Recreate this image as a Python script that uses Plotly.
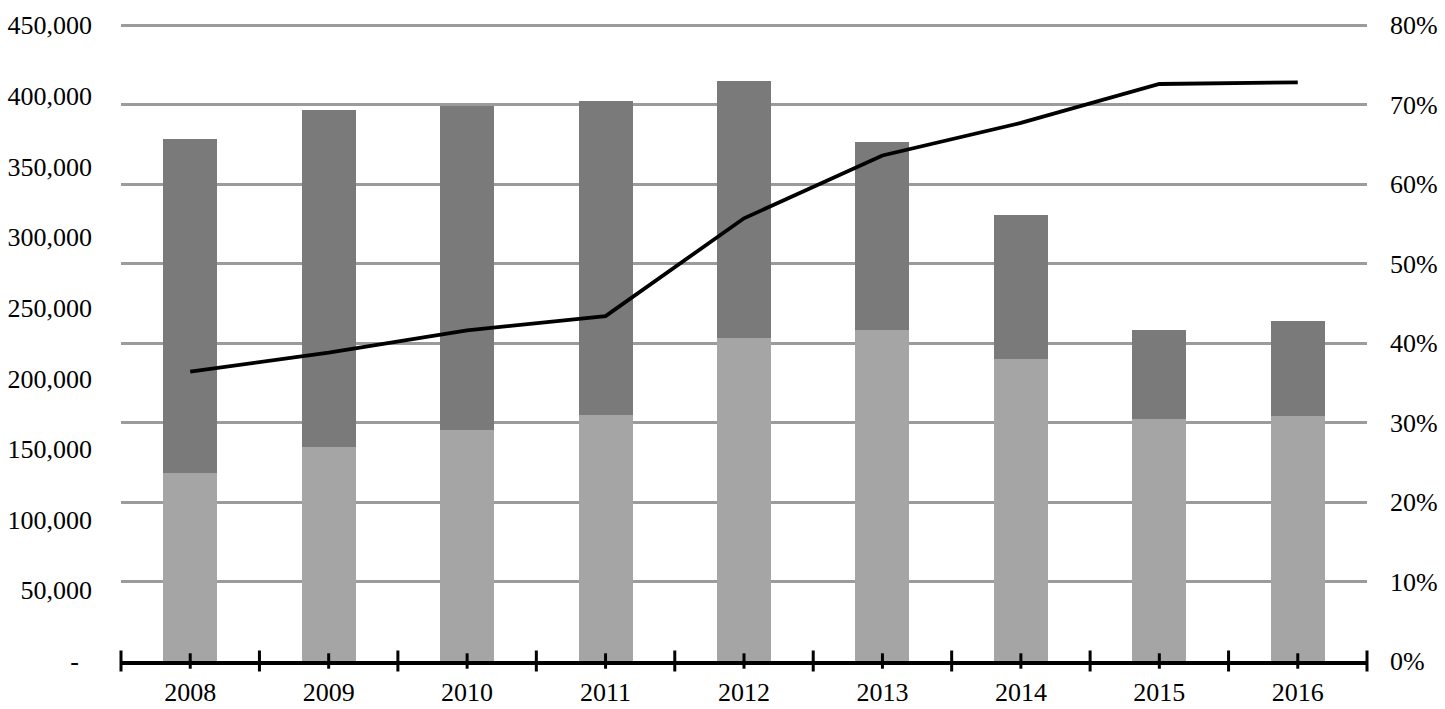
import plotly.graph_objects as go
import numpy as np

years = ["2008", "2009", "2010", "2011", "2012", "2013", "2014", "2015", "2016"]
lower_values = [133000, 151500, 163300, 174200, 228300, 234200, 213800, 171300, 173500]
upper_values = [236800, 238300, 229400, 222300, 182200, 133000, 101700, 62900, 66800]
share_values = [0.364, 0.388, 0.416, 0.434, 0.557, 0.636, 0.677, 0.726, 0.728]

left_tickvals = [0, 50000, 100000, 150000, 200000, 250000, 300000, 350000, 400000, 450000]
left_ticktext = ["-\u00a0\u00a0", "50,000", "100,000", "150,000", "200,000", "250,000",
                 "300,000", "350,000", "400,000", "450,000"]
right_tickvals = [0, 0.1, 0.2, 0.3, 0.4, 0.5, 0.6, 0.7, 0.8]

idx = np.arange(len(years))
boundaries = np.arange(len(years) + 1) - 0.5

FONT = "Liberation Serif"
PAD = 1.005  # small headroom so the top gridline is drawn

fig = go.Figure()
fig.add_trace(go.Bar(x=idx, y=lower_values, marker=dict(color="#a5a5a5", line=dict(width=0)),
                     width=0.39, yaxis="y"))
fig.add_trace(go.Bar(x=idx, y=upper_values, marker=dict(color="#7a7a7a", line=dict(width=0)),
                     width=0.39, yaxis="y"))
fig.add_trace(go.Scatter(x=idx, y=share_values, mode="lines", yaxis="y2",
                         line=dict(color="black", width=3.8)))
# axis tick marks crossing the category axis line
fig.add_trace(go.Scatter(x=boundaries, y=[0] * len(boundaries), mode="markers", yaxis="y",
                         cliponaxis=False,
                         marker=dict(symbol="line-ns", size=15, line=dict(color="black", width=3))))
fig.add_trace(go.Scatter(x=idx, y=[0] * len(idx), mode="markers", yaxis="y",
                         cliponaxis=False,
                         marker=dict(symbol="line-ns", size=11, line=dict(color="black", width=3))))

fig.update_layout(
    width=1445, height=709,
    margin=dict(l=121, r=78, t=22, b=48),
    barmode="stack",
    showlegend=False,
    plot_bgcolor="white",
    paper_bgcolor="white",
    font=dict(family=FONT, size=26, color="black"),
    xaxis=dict(range=[-0.5, 8.5], tickmode="array", tickvals=list(idx), ticktext=years,
               showgrid=False, zeroline=False, showline=True, linecolor="black", linewidth=4,
               ticks="", ticklabelstandoff=5, automargin=False,
               tickfont=dict(family=FONT, size=26)),
    yaxis=dict(range=[0, 450000 * PAD], tickmode="array", tickvals=left_tickvals,
               ticktext=left_ticktext, automargin=False,
               showgrid=False, zeroline=False, showline=False, ticks="",
               ticklabelstandoff=28, tickfont=dict(family=FONT, size=26)),
    yaxis2=dict(range=[0, 0.8 * PAD], tickmode="array", tickvals=right_tickvals, tickformat=".0%",
                overlaying="y", side="right", showgrid=True, gridcolor="#9b9b9b", gridwidth=3,
                zeroline=False, showline=False, ticks="", ticklabelstandoff=22, automargin=False,
                tickfont=dict(family=FONT, size=26)),
)

fig.write_html("out.html", config={"displayModeBar": False},
               post_script="document.body.style.margin='0';")
